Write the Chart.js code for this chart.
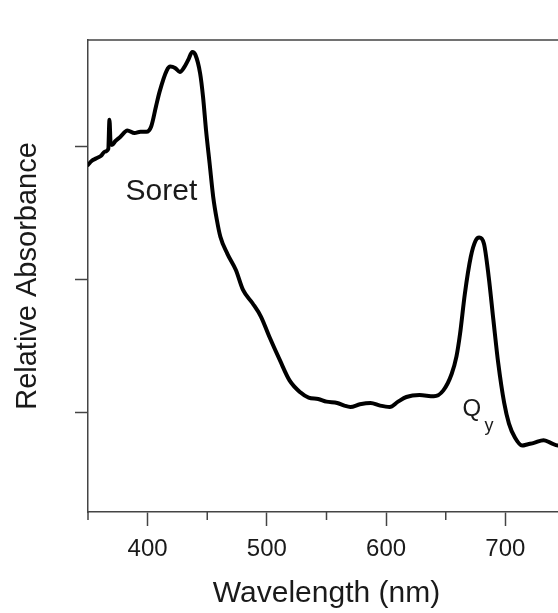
<!DOCTYPE html>
<html>
<head>
<meta charset="utf-8">
<script src="https://cdn.jsdelivr.net/npm/chart.js@4"></script>
<style>
  html, body { margin: 0; padding: 0; background: #fff; overflow: hidden; }
  #wrap { width: 580px; height: 613px; }
</style>
</head>
<body>
<div id="wrap"><canvas id="myChart" width="580" height="613"></canvas></div>
<script>
// Spektrum
const wavelengths = [350, 353, 357, 361, 364, 367, 368, 369, 370, 373, 377, 383, 389, 394, 399, 403, 407, 410,
    416, 419, 423, 427, 431, 434, 437.5, 440, 444, 446.5, 449, 452, 455, 458, 461, 467, 474, 480, 488, 495,
    502, 511, 519, 528, 535, 543, 550, 559, 565, 570, 578, 587, 595, 603, 610, 617, 628, 640, 648, 655,
    659, 662, 666, 671, 675, 678, 682, 686, 690, 694, 699, 703, 708, 714, 719, 724, 732, 738, 744, 750];
const absorbance = [2.86, 2.89, 2.91, 2.93, 2.96, 2.98, 3.20, 3.02, 3.01, 3.04, 3.07, 3.12, 3.10, 3.11, 3.11, 3.15, 3.30, 3.41,
    3.57, 3.60, 3.59, 3.56, 3.60, 3.65, 3.71, 3.69, 3.55, 3.37, 3.12, 2.87, 2.62, 2.45, 2.32, 2.19, 2.07, 1.92, 1.82, 1.72,
    1.57, 1.39, 1.24, 1.15, 1.11, 1.10, 1.08, 1.07, 1.05, 1.04, 1.06, 1.07, 1.05, 1.04, 1.08, 1.115, 1.13, 1.12, 1.165, 1.29,
    1.42, 1.59, 1.89, 2.17, 2.29, 2.315, 2.27, 2.02, 1.69, 1.37, 1.07, 0.915, 0.81, 0.75, 0.76, 0.77, 0.79, 0.77, 0.75, 0.75];

const xTicks = [400, 500, 600, 700];
const xMinorTicks = [350, 450, 550, 650, 750];
const yTicks = [1, 2, 3];

// Beschriftungen im Diagramm: [Text, x (nm), y (Absorbanz), Schrift]
const labels = [
    ['Soret', 381.5, 2.595, '30px "Liberation Sans", Arial, sans-serif'],
    ['Q', 664, 0.975, '24px "Liberation Sans", Arial, sans-serif'],
    ['y', 682.5, 0.86, '18px "Liberation Sans", Arial, sans-serif'],
];

const axisColor = '#444';
const textColor = '#1a1a1a';

// Rahmen oben/rechts, kleine Ticks und Beschriftungen
const extras = {
    id: 'extras',
    afterDraw(chart) {
        const ctx = chart.ctx;
        const a = chart.chartArea;
        const x = chart.scales.x, y = chart.scales.y;
        ctx.save();
        ctx.strokeStyle = axisColor;
        ctx.lineWidth = 1.5;
        ctx.beginPath();
        ctx.moveTo(a.left, a.top);
        ctx.lineTo(a.right, a.top);
        ctx.lineTo(a.right, a.bottom);
        ctx.stroke();
        ctx.beginPath();
        xMinorTicks.forEach(v => {
            const px = x.getPixelForValue(v);
            ctx.moveTo(px, a.bottom);
            ctx.lineTo(px, a.bottom + 8);
        });
        ctx.stroke();
        ctx.fillStyle = textColor;
        ctx.textAlign = 'left';
        ctx.textBaseline = 'alphabetic';
        labels.forEach(([t, lx, ly, f]) => {
            ctx.font = f;
            ctx.fillText(t, x.getPixelForValue(lx), y.getPixelForValue(ly));
        });
        ctx.restore();
    }
};

var ctx = document.getElementById('myChart').getContext('2d');
var myChart = new Chart(ctx, {
    type: 'line',
    data: {
        datasets: [{
            label: 'Absorbanz',
            data: wavelengths.map((w, i) => ({ x: w, y: absorbance[i] })),
            borderColor: '#000',
            borderWidth: 4,
            pointRadius: 0,
            tension: 0.3,
            cubicInterpolationMode: 'monotone',
            borderJoinStyle: 'round',
            borderCapStyle: 'round',
        }]
    },
    options: {
        responsive: false,
        animation: false,
        layout: { padding: { top: 40, right: 15, left: 0, bottom: 0 } },
        plugins: {
            legend: { display: false },
            tooltip: { enabled: false },
        },
        scales: {
            x: {
                type: 'linear',
                min: 350,
                max: 750,
                afterBuildTicks: s => { s.ticks = xTicks.map(v => ({ value: v })); },
                afterFit: s => { s.height = 101; },
                border: { color: axisColor, width: 1.5 },
                grid: { drawOnChartArea: false, tickLength: 14, tickWidth: 1.5, tickColor: axisColor },
                ticks: {
                    padding: 9,
                    color: textColor,
                    font: { family: '"Liberation Sans", Arial, sans-serif', size: 24 },
                },
                title: {
                    display: true,
                    text: 'Wavelength (nm)',
                    color: textColor,
                    font: { family: '"Liberation Sans", Arial, sans-serif', size: 30 },
                    padding: { top: 0, bottom: 1 },
                },
            },
            y: {
                min: 0.25,
                max: 3.8,
                afterBuildTicks: s => { s.ticks = yTicks.map(v => ({ value: v })); },
                afterFit: s => { s.width = 88; },
                border: { color: axisColor, width: 1.5 },
                grid: { drawOnChartArea: false, tickLength: 13, tickWidth: 1.5, tickColor: axisColor },
                ticks: { display: false },
                title: {
                    display: true,
                    text: 'Relative Absorbance',
                    color: textColor,
                    font: { family: '"Liberation Sans", Arial, sans-serif', size: 29 },
                    padding: { top: 11, bottom: 0 },
                },
            }
        }
    },
    plugins: [extras]
});
</script>
</body>
</html>
